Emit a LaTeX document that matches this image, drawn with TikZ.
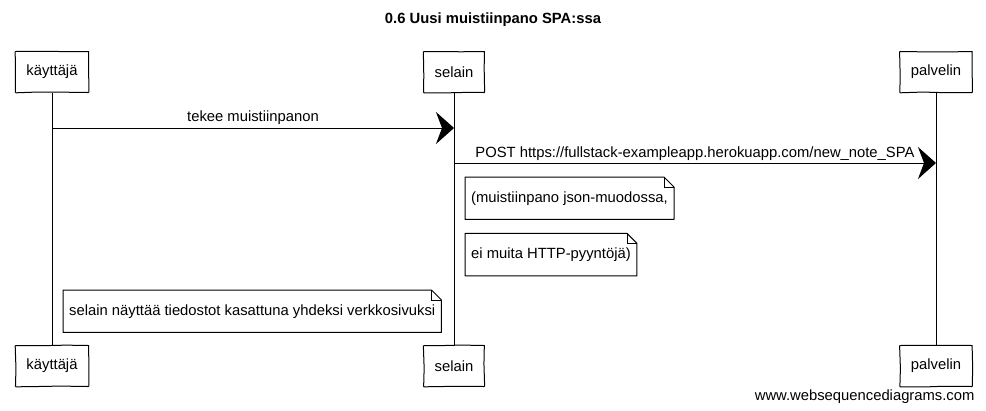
\documentclass[tikz,border=0pt]{standalone}
\usepackage{fontspec}
\setmainfont{Liberation Sans}
\usepackage{tikz}
\usetikzlibrary{arrows.meta,positioning}
\usetikzlibrary{decorations}
\usetikzlibrary{decorations.pathmorphing}

\begin{document}
\begin{tikzpicture}[>={Stealth[length=18pt,width=32pt,inset=6pt]}, x=1pt, y=1pt, font=\fontsize{14.8}{18}\selectfont]
			\tikzstyle{actor} = [draw, line width=1pt, inner xsep=11pt, minimum height=41pt, decorate, decoration={random steps, segment length=22pt, amplitude=0.5pt}, rounded corners=0.6pt]
			\tikzstyle{note} = [inner xsep=6pt, minimum height=42pt]
			\tikzstyle{life} = [line width=0.8pt]
			\tikzstyle{msg} = [->, line width=1pt]
			\pgfmathsetseed{7}
			\useasboundingbox (0,0) rectangle (986,-410);

			\begin{scope}
			\path
			node[font=\fontsize{14.8}{18}\selectfont\bfseries] (title) at (493,-20) {0.6 Uusi muistiinpano SPA:ssa}

			node[actor] (k1) at (52,-72) {käyttäjä}
			node[actor] (s1) at (454,-72) {selain}
			node[actor] (p1) at (936,-72) {palvelin}
			node[actor] (k2) at (52,-366) {käyttäjä}
			node[actor] (s2) at (454,-366) {selain}
			node[actor] (p2) at (936,-366) {palvelin}

			node[note, anchor=north west] (n1) at (465,-177) {(muistiinpano json-muodossa,}
			node[note, below right=14pt and 0pt of n1.south west] (n2) {ei muita HTTP-pyyntöjä)}
			node[note, anchor=north west] (n3) at (63,-290) {selain näyttää tiedostot kasattuna yhdeksi verkkosivuksi}

			node[anchor=east] (wsd) at (978,-397) {www.websequencediagrams.com}
			;
			\end{scope}

			% lifelines
			\draw[life] (k1) -- (k2);
			\draw[life] (s1) -- (s2);
			\draw[life] (p1) -- (p2);

			% messages
			\coordinate (m1a) at (k1.south |- 0,-128);
			\coordinate (m1b) at (s1.south |- 0,-128);
			\coordinate (m2a) at (s1.south |- 0,-163);
			\coordinate (m2b) at (p1.south |- 0,-163);
			\draw[msg] (m1a) -- node[above, inner sep=3pt] {tekee muistiinpanon} (m1b);
			\draw[msg] (m2a) -- node[above, inner sep=2pt] {POST https://fullstack-exampleapp.herokuapp.com/new\_note\_SPA} (m2b);

			% notes
			\foreach \n in {n1,n2,n3} {
				\draw[line width=1pt, line join=round] (\n.north west) -- ([xshift=-10pt]\n.north east) -- ([yshift=-10pt]\n.north east) -- (\n.south east) -- (\n.south west) -- cycle;
				\draw[line width=0.8pt] ([xshift=-10pt]\n.north east) |- ([yshift=-10pt]\n.north east);
			}
\end{tikzpicture}
\end{document}
